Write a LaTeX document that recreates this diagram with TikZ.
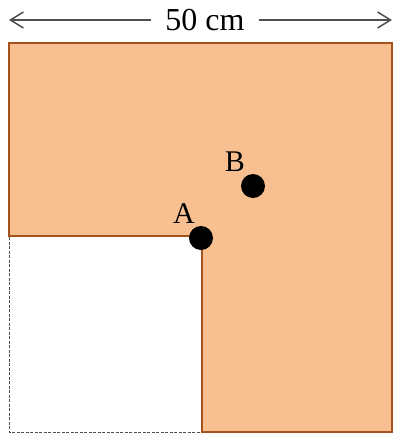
\documentclass[tikz,border=0pt]{standalone}
\usepackage{fontspec}
\setmainfont{Liberation Serif}
\usetikzlibrary{arrows.meta,positioning}
\definecolor{peach}{RGB}{248,192,144}
\definecolor{rust}{RGB}{165,82,28}
\definecolor{darkgray}{RGB}{80,80,80}

\begin{document}
\begin{tikzpicture}[x=1pt, y=-1pt]
\tikzstyle{dot} = [circle, fill=black, inner sep=0pt, minimum size=24pt]
\tikzstyle{ptlabel} = [inner sep=0pt, font=\fontsize{30}{33}\selectfont]
\tikzstyle{dim} = [line width=1.5pt, draw=darkgray, -{Straight Barb[length=13pt, width=16pt]}]

\useasboundingbox (0,0) rectangle (394,434);

% the L-shaped plate
\draw[fill=peach, draw=rust, line width=2.5pt] (9,43) -- (392,43) -- (392,432) -- (202,432) -- (202,236) -- (9,236) -- cycle;
\draw[dash pattern=on 3pt off 1.5pt, draw=darkgray, line width=1pt] (9,237) -- (9,432) -- (201,432);

% points
\node (A) [dot] at (201,238) {};
\node (B) [dot] at (253,186) {};
\node (Alabel) [ptlabel] at (184,214) {A};
\node (Blabel) [ptlabel] at (235,162) {B};

% width
\node (width) [inner xsep=14pt, font=\fontsize{32}{36}\selectfont] at (205,20) {50 cm};
\coordinate (wleft) at (9,20);
\coordinate (wright) at (392,20);
\draw [dim] (width) -- (wleft);
\draw [dim] (width) -- (wright);
\end{tikzpicture}
\end{document}
